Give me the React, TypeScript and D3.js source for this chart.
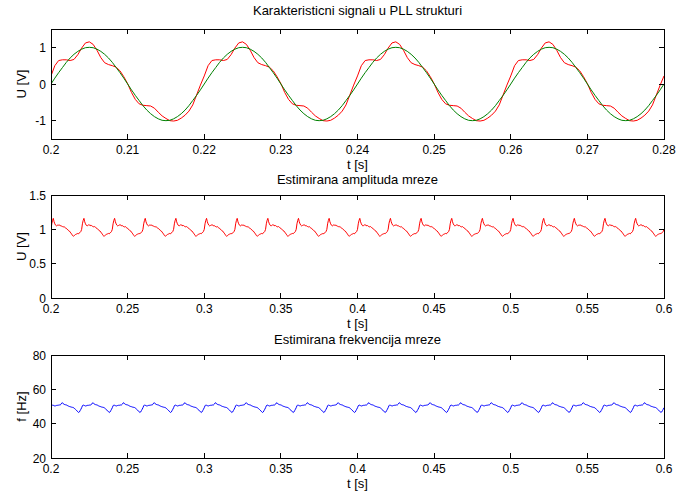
import * as d3 from "d3";

// --- data ---
// one 20 ms period, sampled every 0.5 ms, starting at t = 0.2 s
const stepSignal = 0.0005;
const redSignal = [
  0.22, 0.5, 0.64, 0.66, 0.66, 0.64, 0.67, 0.8, 0.98, 1.12, 1.15, 1.08, 0.92,
  0.72, 0.58, 0.53, 0.5, 0.46, 0.36, 0.2, 0.01, -0.23, -0.42, -0.54, -0.58,
  -0.59, -0.6, -0.66, -0.77, -0.87, -0.94, -1.0, -1.01, -0.99, -0.93, -0.85,
  -0.74, -0.57, -0.3, -0.03,
];
const greenSignal = [
  0, 0.16, 0.31, 0.45, 0.59, 0.71, 0.81, 0.89, 0.95, 0.99, 1.0, 0.99, 0.95,
  0.89, 0.81, 0.71, 0.59, 0.45, 0.31, 0.16, 0, -0.16, -0.31, -0.45, -0.59,
  -0.71, -0.81, -0.89, -0.95, -0.99, -1.0, -0.99, -0.95, -0.89, -0.81, -0.71,
  -0.59, -0.45, -0.31, -0.16,
];
const amplitudePeriod = [
  1.0, 1.08, 1.13, 1.16, 1.11, 1.08, 1.06, 1.05, 1.055, 1.065, 1.06, 1.065,
  1.05, 1.055, 1.045, 1.04, 1.035, 1.04, 1.03, 1.02, 1.015, 1.0, 0.995, 0.98,
  0.975, 0.96, 0.945, 0.93, 0.91, 0.9, 0.905, 0.915, 0.925, 0.93, 0.935, 0.94,
  0.935, 0.95, 0.955, 0.97,
];
const frequencyPeriod = [
  49.3, 50.4, 50.9, 50.7, 50.5, 50.3, 50.4, 50.6, 50.7, 50.7, 50.8, 50.9, 50.9,
  51.3, 52.0, 52.2, 51.6, 51.3, 51.1, 51.0, 50.9, 50.7, 50.4, 50.2, 50.0, 49.9,
  49.7, 49.6, 49.5, 49.4, 49.1, 48.7, 48.3, 47.9, 47.4, 46.9, 46.5, 46.8, 47.6,
  48.4,
];

const xTicksTop = [0.2, 0.21, 0.22, 0.23, 0.24, 0.25, 0.26, 0.27, 0.28];
const xTicksLong = [0.2, 0.25, 0.3, 0.35, 0.4, 0.45, 0.5, 0.55, 0.6];
const yTicksSignal = [-1, 0, 1];
const yTicksAmplitude = [0, 0.5, 1, 1.5];
const yTicksFrequency = [20, 40, 60, 80];

const titles = [
  "Karakteristicni signali u PLL strukturi",
  "Estimirana amplituda mreze",
  "Estimirana frekvencija mreze",
];

// repeat a sampled period over [t0, t1]
const tile = (period: number[], step: number, t0: number, t1: number) => {
  const n = Math.round((t1 - t0) / step);
  return d3.range(n + 1).map((i) => [t0 + i * step, period[i % period.length]] as [number, number]);
};

const W = 676;
const H = 492;
const LEFT = 51;
const RIGHT = 664;
const FONT = "'Liberation Sans', Arial, Helvetica, sans-serif";

type Series = { data: [number, number][]; color: string };

const Panel = ({
  id,
  top,
  bottom,
  title,
  titleGap = 11.5,
  ylabel,
  xDomain,
  yDomain,
  xTicks,
  yTicks,
  series,
}: {
  id: string;
  top: number;
  bottom: number;
  title: string;
  titleGap?: number;
  ylabel: string;
  xDomain: [number, number];
  yDomain: [number, number];
  xTicks: number[];
  yTicks: number[];
  series: Series[];
}) => {
  const x = d3.scaleLinear().domain(xDomain).range([LEFT, RIGHT]);
  const y = d3.scaleLinear().domain(yDomain).range([bottom, top]);
  const line = d3
    .line<[number, number]>()
    .x((d) => x(d[0]))
    .y((d) => y(d[1]));
  const tl = 5;
  return (
    <g fontFamily={FONT} fill="#000">
      <clipPath id={id}>
        <rect x={LEFT} y={top} width={RIGHT - LEFT} height={bottom - top} />
      </clipPath>
      <rect x={LEFT} y={top} width={RIGHT - LEFT} height={bottom - top} fill="#fff" />
      <g clipPath={`url(#${id})`}>
        {series.map((s, i) => (
          <path key={i} d={line(s.data) ?? ""} fill="none" stroke={s.color} strokeWidth={1} />
        ))}
      </g>
      <g stroke="#000" strokeWidth={1} shapeRendering="crispEdges">
        {xTicks.map((t) => (
          <g key={t}>
            <line x1={x(t)} x2={x(t)} y1={bottom} y2={bottom - tl} />
            <line x1={x(t)} x2={x(t)} y1={top} y2={top + tl} />
          </g>
        ))}
        {yTicks.map((t) => (
          <g key={t}>
            <line x1={LEFT} x2={LEFT + tl} y1={y(t)} y2={y(t)} />
            <line x1={RIGHT} x2={RIGHT - tl} y1={y(t)} y2={y(t)} />
          </g>
        ))}
        <rect x={LEFT} y={top} width={RIGHT - LEFT} height={bottom - top} fill="none" />
      </g>
      <g fontSize={12}>
        {xTicks.map((t) => (
          <text key={t} x={x(t)} y={bottom + 15} textAnchor="middle">
            {String(t)}
          </text>
        ))}
        {yTicks.map((t) => (
          <text key={t} x={LEFT - 5} y={y(t) + 4.5} textAnchor="end">
            {String(t)}
          </text>
        ))}
      </g>
      <g fontSize={13}>
        <text x={(LEFT + RIGHT) / 2} y={bottom + 29.5} textAnchor="middle">
          t [s]
        </text>
        <text x={(LEFT + RIGHT) / 2} y={top - titleGap} textAnchor="middle">
          {title}
        </text>
        <text
          transform={`translate(${26},${(top + bottom) / 2}) rotate(-90)`}
          textAnchor="middle"
        >
          {ylabel}
        </text>
      </g>
    </g>
  );
};

export default function App() {
  const red = tile(redSignal, stepSignal, 0.2, 0.28);
  const green = tile(greenSignal, stepSignal, 0.2, 0.28);
  const amp = tile(amplitudePeriod, stepSignal, 0.2, 0.6);
  const freq = tile(frequencyPeriod, stepSignal, 0.2, 0.6);
  return (
    <svg
      width={W}
      height={H}
      style={{ position: "absolute", left: 0, top: 0, background: "#fff" }}
    >
      <Panel
        id="c1"
        top={29}
        bottom={139}
        title={titles[0]}
        titleGap={14}
        ylabel="U [V]"
        xDomain={[0.2, 0.28]}
        yDomain={[-1.5, 1.5]}
        xTicks={xTicksTop}
        yTicks={yTicksSignal}
        series={[
          { data: red, color: "#ff0000" },
          { data: green, color: "#008000" },
        ]}
      />
      <Panel
        id="c2"
        top={195}
        bottom={298}
        title={titles[1]}
        ylabel="U [V]"
        xDomain={[0.2, 0.6]}
        yDomain={[0, 1.5]}
        xTicks={xTicksLong}
        yTicks={yTicksAmplitude}
        series={[{ data: amp, color: "#ff0000" }]}
      />
      <Panel
        id="c3"
        top={355}
        bottom={458}
        title={titles[2]}
        ylabel="f [Hz]"
        xDomain={[0.2, 0.6]}
        yDomain={[20, 80]}
        xTicks={xTicksLong}
        yTicks={yTicksFrequency}
        series={[{ data: freq, color: "#0000ff" }]}
      />
    </svg>
  );
}
